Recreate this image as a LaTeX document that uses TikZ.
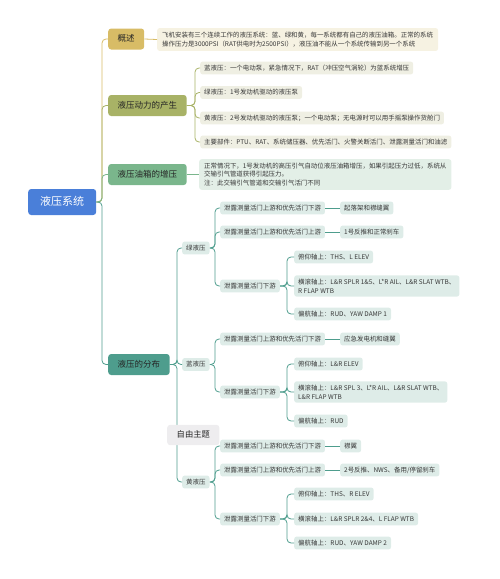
\documentclass[tikz,border=0pt]{standalone}
\usepackage{fontspec}
\setmainfont{Noto Sans CJK SC}

\definecolor{rootblue}{HTML}{4A7FD9}
\definecolor{cgold}{HTML}{D8BC66}
\definecolor{colive}{HTML}{A8B266}
\definecolor{cgreen}{HTML}{7AB68C}
\definecolor{cteal}{HTML}{4E9D8D}
\definecolor{lgold}{HTML}{F6F2E2}
\definecolor{lolive}{HTML}{EFEFE3}
\definecolor{lgreen}{HTML}{E3EFE7}
\definecolor{lteal}{HTML}{DEECE8}
\definecolor{lfree}{HTML}{EEEDEF}

\tikzset{
  topic/.style={rounded corners=3pt, anchor=west, inner xsep=9.5pt, inner ysep=6.3pt,
    text height=6.8pt, text depth=1.6pt, text=black!85, font=\fontsize{8.5}{10}\selectfont},
  para/.style={rounded corners=2.5pt, anchor=west, align=left, inner xsep=4pt, inner ysep=3.5pt,
    text=black!78, font=\fontsize{6.45}{8.8}\selectfont},
  leaf/.style={para, inner ysep=3pt, text height=5.5pt, text depth=1.4pt},
  link/.style={line width=0.8pt, rounded corners=4pt},
}

\begin{document}
\begin{tikzpicture}[x=1pt,y=-1pt]
\useasboundingbox (0,0) rectangle (500,579);

% central topic and main branches
\node[topic, fill=rootblue, text=white, font=\fontsize{11}{13}\selectfont,
  inner xsep=12pt, inner ysep=7.5pt, text height=9pt, text depth=2pt] (root) at (28,202) {液压系统};
\node[topic, fill=cgold] (gaishu) at (108,39) {概述};
\node[topic, fill=colive] (dongli) at (108,105.5) {液压动力的产生};
\node[topic, fill=cgreen] (youxiang) at (108,174.5) {液压油箱的增压};
\node[topic, fill=cteal] (fenbu) at (108,364.5) {液压的分布};

% 概述
\node[para, fill=lgold, inner xsep=5pt, inner ysep=4pt] (gs-txt) at (157,39.5)
  {飞机安装有三个连续工作的液压系统：蓝、绿和黄，每一系统都有自己的液压油箱。正常的系统\\
   操作压力是3000PSI（RAT供电时为2500PSI），液压油不能从一个系统传输到另一个系统};

% 液压动力的产生
\node[leaf, fill=lolive] (dl-lan) at (200,68) {蓝液压：一个电动泵，紧急情况下，RAT（冲压空气涡轮）为蓝系统增压};
\node[leaf, fill=lolive] (dl-lv) at (200,92.5) {绿液压：1号发动机驱动的液压泵};
\node[leaf, fill=lolive] (dl-huang) at (200,118) {黄液压：2号发动机驱动的液压泵；一个电动泵；无电源时可以用手摇泵操作货舱门};
\node[leaf, fill=lolive] (dl-bj) at (200,142) {主要部件：PTU、RAT、系统储压器、优先活门、火警关断活门、泄露测量活门和油滤};

% 液压油箱的增压
\node[para, fill=lgreen, inner xsep=5pt] (yx-txt) at (199,174.5)
  {正常情况下，1号发动机的高压引气自动位液压油箱增压，如果引起压力过低，系统从\\
   交输引气管道获得引起压力。\\
   注：此交输引气管道和交输引气活门不同};

% 液压的分布
\node[leaf, fill=lteal] (lv) at (182,248) {绿液压};
\node[leaf, fill=lteal] (lan) at (182,364.5) {蓝液压};
\node[leaf, fill=lteal] (huang) at (182,482) {黄液压};

% 绿液压
\node[leaf, fill=lteal] (lv-1) at (220,208) {泄露测量活门上游和优先活门下游};
\node[leaf, fill=lteal] (lv-2) at (220,232) {泄露测量活门上游和优先活门上游};
\node[leaf, fill=lteal] (lv-3) at (220,286) {泄露测量活门下游};
\node[leaf, fill=lteal] (lv-1a) at (340,208) {起落架和襟缝翼};
\node[leaf, fill=lteal] (lv-2a) at (340,232) {1号反推和正常刹车};
\node[leaf, fill=lteal] (lv-fy) at (294,257) {俯仰轴上：THS、L ELEV};
\node[para, fill=lteal] (lv-hg) at (294,286) {横滚轴上：L\&R SPLR 1\&5、L*R AIL、L\&R SLAT WTB、\\R FLAP WTB};
\node[leaf, fill=lteal] (lv-ph) at (294,314) {偏航轴上：RUD、YAW DAMP 1};

% 蓝液压
\node[leaf, fill=lteal] (lan-1) at (220,339) {泄露测量活门上游和优先活门下游};
\node[leaf, fill=lteal] (lan-2) at (220,392) {泄露测量活门下游};
\node[leaf, fill=lteal] (lan-1a) at (340,339) {应急发电机和缝翼};
\node[leaf, fill=lteal] (lan-fy) at (294,364) {俯仰轴上：L\&R ELEV};
\node[para, fill=lteal] (lan-hg) at (294,392) {横滚轴上：L\&R SPL 3、L*R AIL、L\&R SLAT WTB、\\L\&R FLAP WTB};
\node[leaf, fill=lteal] (lan-ph) at (294,421) {偏航轴上：RUD};

% 黄液压
\node[leaf, fill=lteal] (huang-1) at (220,446) {泄露测量活门上游和优先活门下游};
\node[leaf, fill=lteal] (huang-2) at (220,470) {泄露测量活门上游和优先活门上游};
\node[leaf, fill=lteal] (huang-3) at (220,519) {泄露测量活门下游};
\node[leaf, fill=lteal] (huang-1a) at (340,446) {襟翼};
\node[leaf, fill=lteal] (huang-2a) at (340,470) {2号反推、NWS、备用/停留刹车};
\node[leaf, fill=lteal] (huang-fy) at (294,494) {俯仰轴上：THS、R ELEV};
\node[leaf, fill=lteal] (huang-hg) at (294,519) {横滚轴上：L\&R SPLR 2\&4、L FLAP WTB};
\node[leaf, fill=lteal] (huang-ph) at (294,543) {偏航轴上：RUD、YAW DAMP 2};

% forks
\coordinate (trunk) at (102,202);
\coordinate (dl-fork) at (195,105.5);
\coordinate (fb-fork) at (177,364.5);
\coordinate (lv-fork) at (215,248);
\coordinate (lan-fork) at (215,364.5);
\coordinate (huang-fork) at (215,482);
\coordinate (lv3-fork) at (287,286);
\coordinate (lan2-fork) at (287,392);
\coordinate (huang3-fork) at (287,519);

% connectors
\draw[link, cgold] (root.east) -- (trunk) |- (gaishu.west);
\draw[link, colive] (root.east) -- (trunk) |- (dongli.west);
\draw[link, cgreen] (root.east) -- (trunk) |- (youxiang.west);
\draw[link, cteal] (root.east) -- (trunk) |- (fenbu.west);

\draw[link, cgold] (gaishu.east) -- (gs-txt.west);
\foreach \n in {dl-lan,dl-lv,dl-huang,dl-bj}
  \draw[link, colive] (dongli.east) -- (dl-fork) |- (\n.west);
\draw[link, cgreen] (youxiang.east) -- (yx-txt.west);

\foreach \n in {lv,lan,huang}
  \draw[link, cteal] (fenbu.east) -- (fb-fork) |- (\n.west);
\foreach \n in {lv-1,lv-2,lv-3}
  \draw[link, cteal] (lv.east) -- (lv-fork) |- (\n.west);
\foreach \n in {lan-1,lan-2}
  \draw[link, cteal] (lan.east) -- (lan-fork) |- (\n.west);
\foreach \n in {huang-1,huang-2,huang-3}
  \draw[link, cteal] (huang.east) -- (huang-fork) |- (\n.west);

\draw[link, cteal] (lv-1.east) -- (lv-1a.west);
\draw[link, cteal] (lv-2.east) -- (lv-2a.west);
\draw[link, cteal] (lan-1.east) -- (lan-1a.west);
\draw[link, cteal] (huang-1.east) -- (huang-1a.west);
\draw[link, cteal] (huang-2.east) -- (huang-2a.west);

\foreach \n in {lv-fy,lv-hg,lv-ph}
  \draw[link, cteal] (lv-3.east) -- (lv3-fork) |- (\n.west);
\foreach \n in {lan-fy,lan-hg,lan-ph}
  \draw[link, cteal] (lan-2.east) -- (lan2-fork) |- (\n.west);
\foreach \n in {huang-fy,huang-hg,huang-ph}
  \draw[link, cteal] (huang-3.east) -- (huang3-fork) |- (\n.west);

% floating topic
\node[topic, fill=lfree, inner xsep=9.5pt, inner ysep=6pt, font=\fontsize{8.3}{10}\selectfont] (ziyou) at (167,435) {自由主题};
\end{tikzpicture}
\end{document}
